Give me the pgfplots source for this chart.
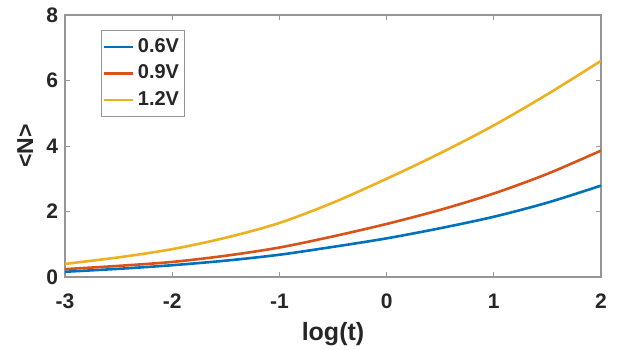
\documentclass[border=0pt]{standalone}
\usepackage{pgfplots}
\pgfplotsset{compat=1.18}
\usepackage{fontspec}
\setmainfont{Liberation Sans}
\definecolor{mblue}{rgb}{0,0.447,0.741}
\definecolor{mred}{rgb}{0.85,0.325,0.098}
\definecolor{myellow}{rgb}{0.929,0.694,0.125}
\definecolor{axgray}{RGB}{150,150,150}
\definecolor{txt}{RGB}{38,38,38}
\begin{document}
\begin{tikzpicture}
\path[use as bounding box, fill=white] (-32.5pt,-36pt) rectangle (281.5pt,138.5pt);
\begin{axis}[
  at={(0,0)}, anchor=south west,
  scale only axis, width=268pt, height=131pt,
  xmin=-3, xmax=2, ymin=0, ymax=8,
  xtick={-3,-2,-1,0,1,2}, ytick={0,2,4,6,8},
  tick align=inside, major tick length=2.5pt,
  tick style={axgray, line width=0.5pt},
  axis line style={axgray, line width=0.6pt},
  /pgf/number format/assume math mode=true,
  ticklabel style={font=\fontsize{10.5}{12}\selectfont\bfseries, text=txt},
  xticklabel style={anchor=base, yshift=-15.5pt},
  xlabel={log(t)}, ylabel={<N>},
  xlabel style={at={(axis description cs:0.5,-0.2405)}, anchor=base, inner sep=0pt, font=\fontsize{12.5}{14}\selectfont\bfseries, text=txt},
  ylabel style={at={(axis description cs:-0.0597,0.5)}, anchor=base, inner sep=0pt, font=\fontsize{11.5}{13}\selectfont\bfseries, text=txt},
  legend style={at={(axis description cs:0.067,0.943)}, anchor=north west,
    draw=axgray, font=\fontsize{10}{12}\selectfont\bfseries, text=txt,
    nodes={inner sep=2pt}, row sep=0.8pt, inner xsep=0.5pt, inner ysep=2pt},
  legend cell align=left,
  legend image code/.code={\draw[#1, line width=1.3pt] (0pt,0pt) -- (14.5pt,0pt);},
  every axis plot/.append style={line width=1.3pt, smooth},
]
\addplot[mblue, line width=1.3pt] coordinates {(-3,0.16) (-2.5,0.25) (-2,0.36) (-1.5,0.5) (-1,0.68) (-0.5,0.92) (0,1.18) (0.5,1.49) (1,1.84) (1.5,2.27) (2,2.79)};
\addlegendentry{0.6V}
\addplot[mred, line width=1.3pt] coordinates {(-3,0.24) (-2.5,0.34) (-2,0.46) (-1.5,0.65) (-1,0.90) (-0.5,1.24) (0,1.62) (0.5,2.05) (1,2.55) (1.5,3.15) (2,3.86)};
\addlegendentry{0.9V}
\addplot[myellow, line width=1.3pt] coordinates {(-3,0.40) (-2.5,0.60) (-2,0.85) (-1.5,1.2) (-1,1.65) (-0.5,2.27) (0,3.0) (0.5,3.78) (1,4.63) (1.5,5.58) (2,6.6)};
\addlegendentry{1.2V}
\end{axis}
\end{tikzpicture}
\end{document}
